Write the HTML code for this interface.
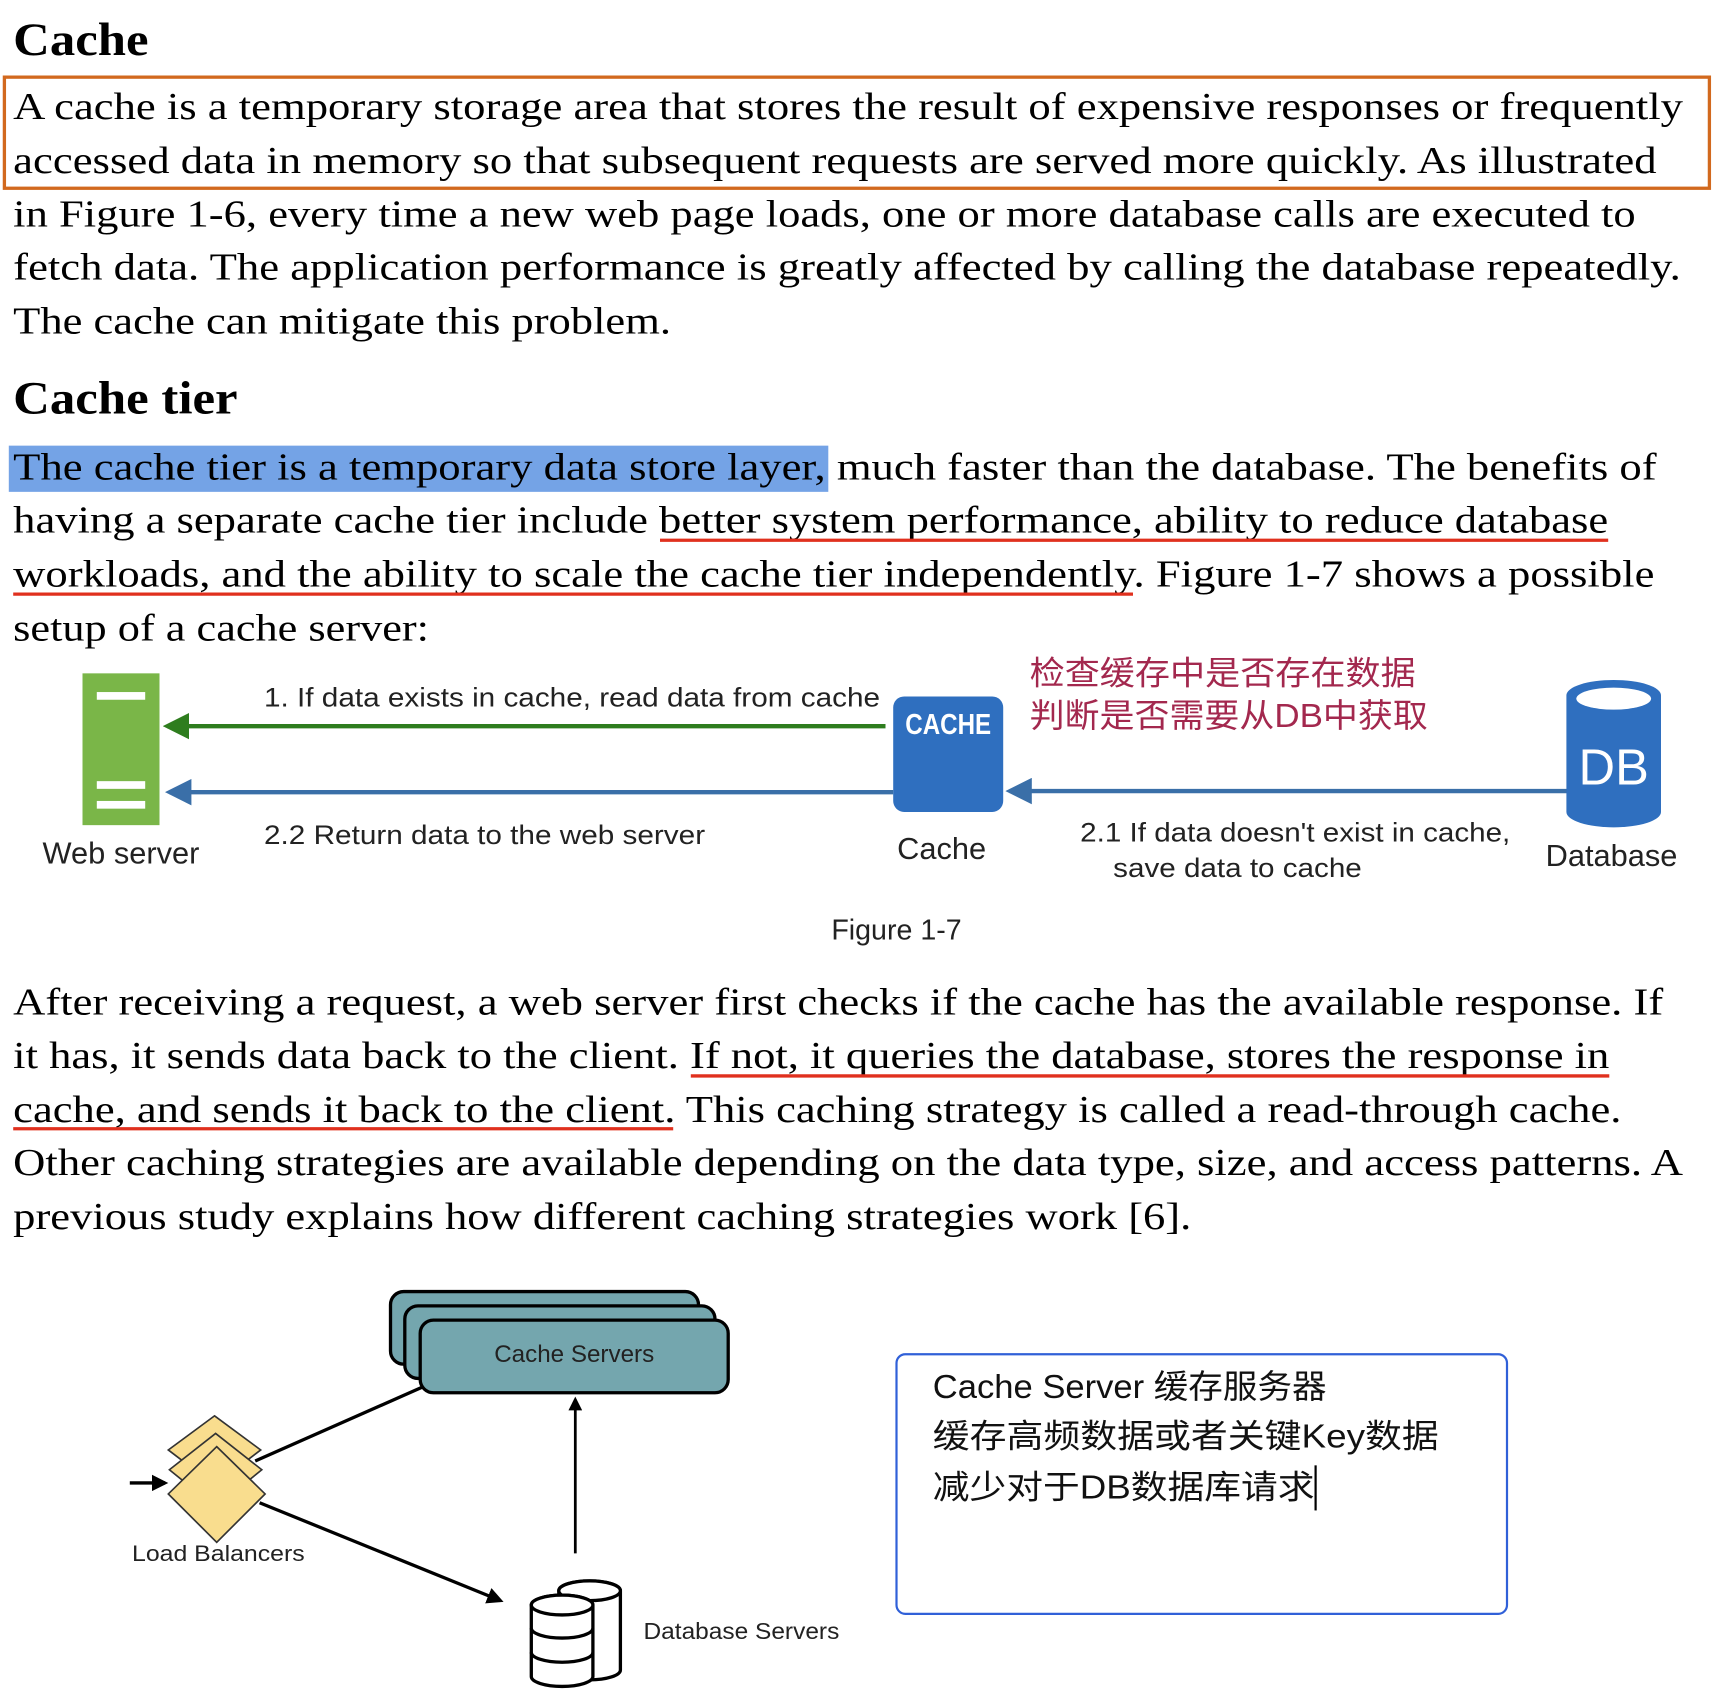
<!DOCTYPE html>
<html><head><meta charset="utf-8"><style>
html,body{margin:0;padding:0;background:#fff;}
svg{display:block;}
.s{font-family:"Liberation Serif","Noto Serif CJK SC",serif;font-size:35px;fill:#000;}
.h{font-family:"Liberation Serif",serif;font-size:42px;font-weight:bold;fill:#000;}
.a{font-family:"Liberation Sans","Noto Sans CJK SC",sans-serif;fill:#222;}
.c{font-family:"Liberation Sans","Noto Sans CJK SC",sans-serif;}
</style></head><body>
<svg width="1716" height="1702" viewBox="0 0 1560 1547" xmlns="http://www.w3.org/2000/svg">
<defs>
<marker id="ag" markerWidth="6" markerHeight="6" refX="5" refY="3" orient="auto" markerUnits="strokeWidth"><path d="M0,0 L6,3 L0,6 z" fill="#2e7d1e"/></marker>
<marker id="ab" markerWidth="6" markerHeight="6" refX="5" refY="3" orient="auto" markerUnits="strokeWidth"><path d="M0,0 L6,3 L0,6 z" fill="#3a6fa8"/></marker>
<marker id="ak" markerWidth="5" markerHeight="5" refX="4" refY="2.5" orient="auto" markerUnits="strokeWidth"><path d="M0,0 L5,2.5 L0,5 z" fill="#000"/></marker>
</defs>
<text class="h" x="12" y="50" textLength="123" lengthAdjust="spacingAndGlyphs">Cache</text>
<rect x="4" y="70" width="1550" height="101" fill="none" stroke="#d2691e" stroke-width="3"/>
<text class="s" x="12" y="108" textLength="1518" lengthAdjust="spacingAndGlyphs">A cache is a temporary storage area that stores the result of expensive responses or frequently</text>
<text class="s" x="12" y="157" textLength="1494" lengthAdjust="spacingAndGlyphs">accessed data in memory so that subsequent requests are served more quickly. As illustrated</text>
<text class="s" x="12" y="206" textLength="1475" lengthAdjust="spacingAndGlyphs">in Figure 1-6, every time a new web page loads, one or more database calls are executed to</text>
<text class="s" x="12" y="254" textLength="1516" lengthAdjust="spacingAndGlyphs">fetch data. The application performance is greatly affected by calling the database repeatedly.</text>
<text class="s" x="12" y="303" textLength="598" lengthAdjust="spacingAndGlyphs">The cache can mitigate this problem.</text>
<text class="h" x="12" y="376" textLength="204" lengthAdjust="spacingAndGlyphs">Cache tier</text>
<rect x="8" y="405" width="745" height="42" fill="#74a3e6"/>
<text class="s" x="12" y="436" textLength="1494" lengthAdjust="spacingAndGlyphs">The cache tier is a temporary data store layer, much faster than the database. The benefits of</text>
<text class="s" x="12" y="484" textLength="1450" lengthAdjust="spacingAndGlyphs">having a separate cache tier include better system performance, ability to reduce database</text>
<line x1="600" y1="491" x2="1462" y2="491" stroke="#e0301e" stroke-width="3"/>
<text class="s" x="12" y="533" textLength="1492" lengthAdjust="spacingAndGlyphs">workloads, and the ability to scale the cache tier independently. Figure 1-7 shows a possible</text>
<line x1="12" y1="540" x2="1030" y2="540" stroke="#e0301e" stroke-width="3"/>
<text class="s" x="12" y="582" textLength="378" lengthAdjust="spacingAndGlyphs">setup of a cache server:</text>

<rect x="75" y="612" width="70" height="138" fill="#7ab648"/>
<rect x="88" y="629" width="44" height="7" fill="#fff"/>
<rect x="88" y="710" width="44" height="7" fill="#fff"/>
<rect x="88" y="728" width="44" height="7" fill="#fff"/>
<text class="a" x="110" y="785" font-size="28" text-anchor="middle">Web server</text>
<text class="a" x="240" y="642" font-size="24" textLength="560" lengthAdjust="spacingAndGlyphs">1. If data exists in cache, read data from cache</text>
<line x1="805" y1="660" x2="152" y2="660" stroke="#2e7d1e" stroke-width="4" marker-end="url(#ag)"/>
<line x1="812" y1="720" x2="154" y2="720" stroke="#3a6fa8" stroke-width="4" marker-end="url(#ab)"/>
<text class="a" x="240" y="767" font-size="24" textLength="401" lengthAdjust="spacingAndGlyphs">2.2 Return data to the web server</text>
<rect x="812" y="633" width="100" height="105" rx="10" fill="#2f6fbf"/>
<text class="c" x="862" y="667" font-size="26" font-weight="bold" fill="#fff" text-anchor="middle" textLength="78" lengthAdjust="spacingAndGlyphs">CACHE</text>
<text class="a" x="856" y="781" font-size="28" text-anchor="middle">Cache</text>
<text class="c" x="936" y="622" font-size="30" fill="#a3284e" textLength="351" lengthAdjust="spacingAndGlyphs">检查缓存中是否存在数据</text>
<text class="c" x="936" y="661" font-size="30" fill="#a3284e" textLength="362" lengthAdjust="spacingAndGlyphs">判断是否需要从DB中获取</text>
<line x1="1425" y1="719" x2="918" y2="719" stroke="#3a6fa8" stroke-width="4" marker-end="url(#ab)"/>
<text class="a" x="982" y="765" font-size="24" textLength="391" lengthAdjust="spacingAndGlyphs">2.1 If data doesn't exist in cache,</text>
<text class="a" x="1012" y="797" font-size="24" textLength="226" lengthAdjust="spacingAndGlyphs">save data to cache</text>
<path d="M1424,632 A43,14 0 0 1 1510,632 L1510,738 A43,14 0 0 1 1424,738 Z" fill="#2f6fbf"/>
<ellipse cx="1467" cy="635" rx="34" ry="10" fill="#fff"/>
<text class="c" x="1467" y="713" font-size="46" fill="#fff" text-anchor="middle">DB</text>
<text class="a" x="1465" y="787" font-size="28" text-anchor="middle">Database</text>
<text class="a" x="815" y="854" font-size="26" text-anchor="middle">Figure 1-7</text>

<text class="s" x="12" y="922" textLength="1500" lengthAdjust="spacingAndGlyphs">After receiving a request, a web server first checks if the cache has the available response. If</text>
<text class="s" x="12" y="971" textLength="1451" lengthAdjust="spacingAndGlyphs">it has, it sends data back to the client. If not, it queries the database, stores the response in</text>
<line x1="628" y1="978" x2="1463" y2="978" stroke="#e0301e" stroke-width="3"/>
<text class="s" x="12" y="1020" textLength="1462" lengthAdjust="spacingAndGlyphs">cache, and sends it back to the client. This caching strategy is called a read-through cache.</text>
<line x1="12" y1="1026" x2="612" y2="1026" stroke="#e0301e" stroke-width="3"/>
<text class="s" x="12" y="1068" textLength="1518" lengthAdjust="spacingAndGlyphs">Other caching strategies are available depending on the data type, size, and access patterns. A</text>
<text class="s" x="12" y="1117" textLength="1071" lengthAdjust="spacingAndGlyphs">previous study explains how different caching strategies work [6].</text>

<line x1="118" y1="1348" x2="150" y2="1348" stroke="#000" stroke-width="3" marker-end="url(#ak)"/>
<line x1="232" y1="1328" x2="386" y2="1260" stroke="#000" stroke-width="3"/>
<line x1="236" y1="1366" x2="455" y2="1455" stroke="#000" stroke-width="3" marker-end="url(#ak)"/>
<line x1="523" y1="1412" x2="523" y2="1272" stroke="#000" stroke-width="2.5" marker-end="url(#ak)"/>
<rect x="355" y="1174" width="280" height="66" rx="12" fill="#74a6ae" stroke="#000" stroke-width="3"/>
<rect x="368" y="1187" width="282" height="66" rx="12" fill="#74a6ae" stroke="#000" stroke-width="3"/>
<rect x="382" y="1200" width="280" height="66" rx="12" fill="#74a6ae" stroke="#000" stroke-width="3"/>
<text class="a" x="522" y="1238" font-size="22" text-anchor="middle">Cache Servers</text>
<polygon points="195,1287 237,1318 195,1350 153,1318" fill="#f9dd8e" stroke="#333" stroke-width="1.5"/>
<polygon points="196,1303 238,1336 196,1370 154,1336" fill="#f9dd8e" stroke="#333" stroke-width="1.5"/>
<polygon points="197,1315 241,1358 197,1402 153,1358" fill="#f9dd8e" stroke="#333" stroke-width="1.5"/>
<text class="a" x="120" y="1419" font-size="20" textLength="157" lengthAdjust="spacingAndGlyphs">Load Balancers</text>
<g fill="#fff" stroke="#000" stroke-width="3">
<path d="M508,1446 A28,9 0 0 1 564,1446 L564,1518 A28,9 0 0 1 508,1518 Z"/>
<ellipse cx="536" cy="1446" rx="28" ry="9"/>
<path d="M483,1459 A28,9 0 0 1 539,1459 L539,1524 A28,9 0 0 1 483,1524 Z"/>
<ellipse cx="511" cy="1459" rx="28" ry="9"/>
<path d="M483,1480 A28,9 0 0 0 539,1480 M483,1502 A28,9 0 0 0 539,1502" fill="none"/>
</g>
<text class="a" x="585" y="1490" font-size="21" textLength="178" lengthAdjust="spacingAndGlyphs">Database Servers</text>
<rect x="815" y="1231" width="555" height="236" rx="8" fill="#fff" stroke="#3060d8" stroke-width="2"/>
<text class="c" x="848" y="1271" font-size="30" fill="#111" textLength="358" lengthAdjust="spacingAndGlyphs">Cache Server 缓存服务器</text>
<text class="c" x="848" y="1316" font-size="30" fill="#111" textLength="460" lengthAdjust="spacingAndGlyphs">缓存高频数据或者关键Key数据</text>
<text class="c" x="848" y="1362" font-size="30" fill="#111" textLength="347" lengthAdjust="spacingAndGlyphs">减少对于DB数据库请求</text>
<line x1="1196" y1="1332" x2="1196" y2="1373" stroke="#000" stroke-width="2"/>
</svg>
</body></html>
